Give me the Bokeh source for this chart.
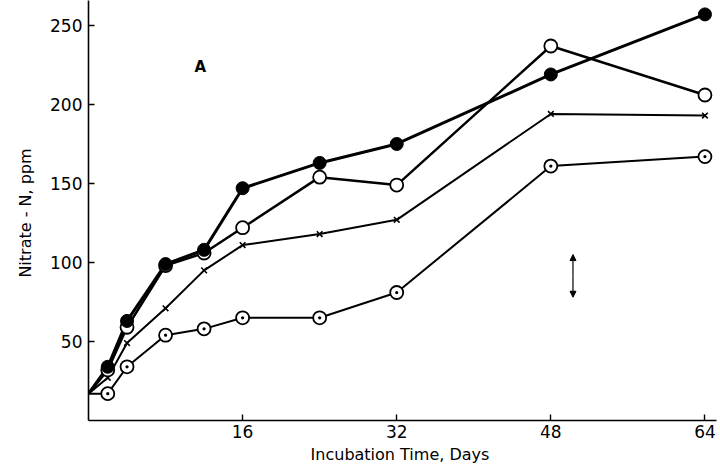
from bokeh.plotting import figure
from bokeh.models import Range1d, FixedTicker, Label, Arrow, NormalHead
from bokeh.embed import file_html
from bokeh.resources import INLINE

days = [0, 2, 4, 8, 12, 16, 24, 32, 48, 64]
filled = [17, 34, 63, 99, 108, 147, 163, 175, 219, 257]
opened = [17, 32, 59, 98, 106, 122, 154, 149, 237, 206]
cross = [17, 27, 49, 71, 95, 111, 118, 127, 194, 193]
dotted = [17, 17, 34, 54, 58, 65, 65, 81, 161, 167]
x_ticks = [16, 32, 48, 64]
y_ticks = [50, 100, 150, 200, 250]

p = figure(width=720, height=472, output_backend="svg", toolbar_location=None,
           x_range=Range1d(0, 65.2), y_range=Range1d(0, 265.8),
           min_border_left=88, min_border_right=4, min_border_top=0, min_border_bottom=52)
p.outline_line_color = None
p.xgrid.visible = False
p.ygrid.visible = False
p.background_fill_color = "white"

font = "DejaVu Sans"
for ax in (p.xaxis, p.yaxis):
    ax.major_tick_in = 6
    ax.major_tick_out = 0
    ax.minor_tick_line_color = None
    ax.axis_line_width = 1.6
    ax.major_tick_line_width = 1.4
    ax.major_label_text_font = font
    ax.major_label_text_font_size = "17px"
    ax.major_label_text_color = "black"
    ax.axis_label_text_font = font
    ax.axis_label_text_font_style = "normal"
    ax.axis_label_text_font_size = "16px"
    ax.axis_label_text_color = "black"
    ax.axis_line_color = "black"
    ax.major_tick_line_color = "black"

p.xaxis.ticker = FixedTicker(ticks=x_ticks)
p.yaxis.ticker = FixedTicker(ticks=y_ticks)
p.xaxis.axis_label = "Incubation  Time, Days"
p.yaxis.axis_label = "Nitrate - N,  ppm"
p.xaxis.major_label_standoff = 4
p.yaxis.major_label_standoff = 6
p.xaxis.axis_label_standoff = 4
p.yaxis.axis_label_standoff = 12

# series lines
p.line(days, dotted, line_color="black", line_width=2)
p.line(days, cross, line_color="black", line_width=2)
p.line(days, opened, line_color="black", line_width=2.5)
p.line(days, filled, line_color="black", line_width=3)

# markers (not at day 0)
p.scatter(days[1:], dotted[1:], marker="circle_dot", size=13, fill_color="white",
          line_color="black", line_width=1.8)
p.scatter(days[1:], cross[1:], marker="x", size=8, line_color="black", line_width=1.6)
p.scatter(days[1:], opened[1:], marker="circle", size=13, fill_color="white",
          line_color="black", line_width=1.8)
p.scatter(days[1:], filled[1:], marker="circle", size=13, fill_color="black",
          line_color="black", line_width=1)

p.add_layout(Label(x=11.6, y=218, text="A", text_font=font, text_font_style="bold",
                   text_font_size="15px", text_align="center", text_color="black"))
p.add_layout(Arrow(x_start=50.3, y_start=91, x_end=50.3, y_end=105,
                   end=NormalHead(size=6, fill_color="black", line_color="black"),
                   line_width=1.2, line_color="black"))
p.add_layout(Arrow(x_start=50.3, y_start=91, x_end=50.3, y_end=78,
                   end=NormalHead(size=6, fill_color="black", line_color="black"),
                   line_width=1.2, line_color="black"))

open("out.html", "w").write(file_html(p, INLINE))
